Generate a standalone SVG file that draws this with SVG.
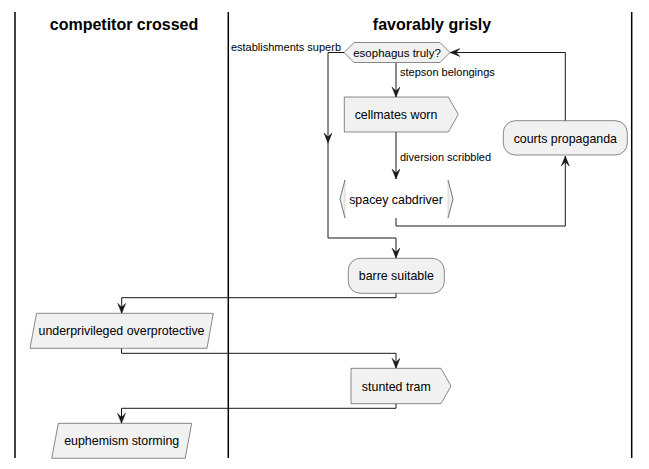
<svg xmlns="http://www.w3.org/2000/svg" width="649" height="469" viewBox="0 0 649 469">
<defs>
<style>
.lane{stroke:#000;stroke-width:1.5;fill:none}
.title{font-family:"Liberation Sans",Arial,sans-serif;font-size:16px;font-weight:bold;fill:#000;text-anchor:middle}
.node{fill:#F1F1F1;stroke:#181818;stroke-width:0.5}
.nt{font-family:"Liberation Sans",Arial,sans-serif;font-size:12.4px;fill:#000;text-anchor:middle}
.dt{font-family:"Liberation Sans",Arial,sans-serif;font-size:11.5px;fill:#000;text-anchor:middle}
.lbl{font-family:"Liberation Sans",Arial,sans-serif;font-size:11px;fill:#000}
.edge{stroke:#181818;stroke-width:1;fill:none}
</style>
<marker id="arr" markerUnits="userSpaceOnUse" markerWidth="11" markerHeight="9" refX="10" refY="4" orient="auto" viewBox="0 0 11 9">
<path d="M0,0 L10,4 L0,8 L4,4 Z" fill="#181818" stroke="#181818" stroke-width="0.5"/>
</marker>
</defs>
<rect width="649" height="469" fill="#FFFFFF"/>
<g id="lanes">
<line class="lane" x1="15" y1="12" x2="15" y2="458"/>
<line class="lane" x1="228.3" y1="12" x2="228.3" y2="458"/>
<line class="lane" x1="631.7" y1="12" x2="631.7" y2="458"/>
<text class="title" x="124" y="30">competitor crossed</text>
<text class="title" x="432" y="30">favorably grisly</text>
</g>
<g id="connectors">
<path class="edge" d="M396,63 L396,97" marker-end="url(#arr)"/>
<text class="lbl" x="400" y="76">stepson belongings</text>
<path class="edge" d="M396,132 L396,179" marker-end="url(#arr)"/>
<text class="lbl" x="400" y="161">diversion scribbled</text>
<path class="edge" d="M344,52.5 L328,52.5 L328,143" marker-end="url(#arr)"/>
<path class="edge" d="M328,143 L328,238 L396,238 L396,258" marker-end="url(#arr)"/>
<text class="lbl" x="341" y="51" text-anchor="end">establishments superb</text>
<path class="edge" d="M396,218 L396,226 L565.3,226 L565.3,156" marker-end="url(#arr)"/>
<path class="edge" d="M565.3,120.7 L565.3,52.5 L450,52.5" marker-end="url(#arr)"/>
<path class="edge" d="M396,293.3 L396,297.7 L121.7,297.7 L121.7,313.3" marker-end="url(#arr)"/>
<path class="edge" d="M121.5,348.3 L121.5,353.3 L396,353.3 L396,368.3" marker-end="url(#arr)"/>
<path class="edge" d="M396,403.7 L396,408.3 L121.5,408.3 L121.5,423.3" marker-end="url(#arr)"/>
</g>
<g id="esophagus-truly">
<polygon class="node" points="344,52.5 354,42.5 440,42.5 450,52.5 440,62.5 354,62.5"/>
<text class="dt" x="397" y="56.5">esophagus truly?</text>
</g>
<g id="cellmates-worn">
<polygon class="node" points="344.3,97 448.3,97 458.3,114.5 448.3,132 344.3,132"/>
<text class="nt" x="396" y="119">cellmates worn</text>
</g>
<g id="spacey-cabdriver">
<polygon points="345,180 340,199 345,218" fill="#F1F1F1" stroke="#BBBBBB" stroke-width="0.5"/>
<polyline points="345,180 340,199 345,218" fill="none" stroke="#181818" stroke-width="0.5"/>
<polygon points="448,180 453,199 448,218" fill="#F1F1F1" stroke="#BBBBBB" stroke-width="0.5"/>
<polyline points="448,180 453,199 448,218" fill="none" stroke="#181818" stroke-width="0.5"/>
<text class="nt" x="396" y="203.5">spacey cabdriver</text>
</g>
<g id="courts-propaganda">
<rect class="node" x="503.3" y="120.7" width="124" height="34.3" rx="12" ry="12"/>
<text class="nt" x="565.3" y="142.5">courts propaganda</text>
</g>
<g id="barre-suitable">
<rect class="node" x="348.3" y="258.3" width="96" height="35" rx="12" ry="12"/>
<text class="nt" x="396.3" y="280.3">barre suitable</text>
</g>
<g id="underprivileged-overprotective">
<polygon class="node" points="36.5,313.3 213.3,313.3 207,348.3 30,348.3"/>
<text class="nt" x="121.5" y="335">underprivileged overprotective</text>
</g>
<g id="stunted-tram">
<polygon class="node" points="351,368.3 441,368.3 451,386 441,403.7 351,403.7"/>
<text class="nt" x="396.3" y="390.5">stunted tram</text>
</g>
<g id="euphemism-storming">
<polygon class="node" points="58.3,423.3 191.7,423.3 185.2,458.3 51.7,458.3"/>
<text class="nt" x="121.7" y="445">euphemism storming</text>
</g>
</svg>
